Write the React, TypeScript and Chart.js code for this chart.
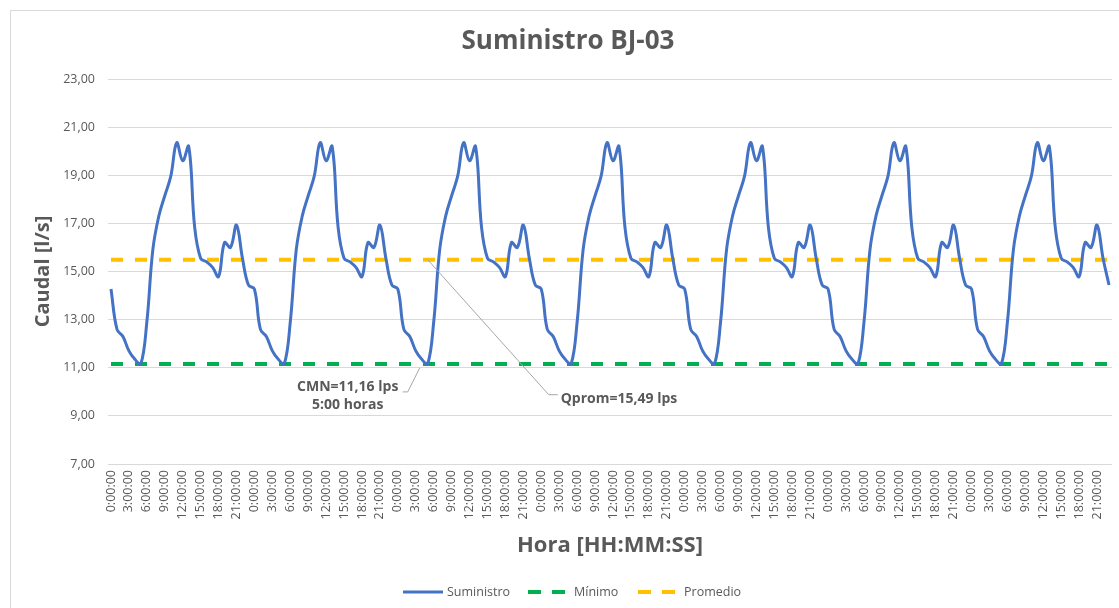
import React, { useEffect, useRef } from "react";
import { Chart, registerables } from "chart.js";

Chart.register(...registerables);

const TITLE = "Suministro BJ-03";
const X_TITLE = "Hora [HH:MM:SS]";
const Y_TITLE = "Caudal [l/s]";

const HOURS = [
  "0:00:00", "1:00:00", "2:00:00", "3:00:00", "4:00:00", "5:00:00",
  "6:00:00", "7:00:00", "8:00:00", "9:00:00", "10:00:00", "11:00:00",
  "12:00:00", "13:00:00", "14:00:00", "15:00:00", "16:00:00", "17:00:00",
  "18:00:00", "19:00:00", "20:00:00", "21:00:00", "22:00:00", "23:00:00",
];
const DAYS = [1, 2, 3, 4, 5, 6, 7];

const SUMINISTRO = [
  14.27, 12.6, 12.3, 11.7, 11.35, 11.16, 12.9, 15.9, 17.3, 18.15, 18.95, 20.35, 19.6, 20.2, 16.85, 15.55, 15.4, 15.17, 14.79, 16.2, 16.0, 16.93, 15.55, 14.44,
  14.27, 12.6, 12.3, 11.7, 11.35, 11.16, 12.9, 15.9, 17.3, 18.15, 18.95, 20.35, 19.6, 20.2, 16.85, 15.55, 15.4, 15.17, 14.79, 16.2, 16.0, 16.93, 15.55, 14.44,
  14.27, 12.6, 12.3, 11.7, 11.35, 11.16, 12.9, 15.9, 17.3, 18.15, 18.95, 20.35, 19.6, 20.2, 16.85, 15.55, 15.4, 15.17, 14.79, 16.2, 16.0, 16.93, 15.55, 14.44,
  14.27, 12.6, 12.3, 11.7, 11.35, 11.16, 12.9, 15.9, 17.3, 18.15, 18.95, 20.35, 19.6, 20.2, 16.85, 15.55, 15.4, 15.17, 14.79, 16.2, 16.0, 16.93, 15.55, 14.44,
  14.27, 12.6, 12.3, 11.7, 11.35, 11.16, 12.9, 15.9, 17.3, 18.15, 18.95, 20.35, 19.6, 20.2, 16.85, 15.55, 15.4, 15.17, 14.79, 16.2, 16.0, 16.93, 15.55, 14.44,
  14.27, 12.6, 12.3, 11.7, 11.35, 11.16, 12.9, 15.9, 17.3, 18.15, 18.95, 20.35, 19.6, 20.2, 16.85, 15.55, 15.4, 15.17, 14.79, 16.2, 16.0, 16.93, 15.55, 14.44,
  14.27, 12.6, 12.3, 11.7, 11.35, 11.16, 12.9, 15.9, 17.3, 18.15, 18.95, 20.35, 19.6, 20.2, 16.85, 15.55, 15.4, 15.17, 14.79, 16.2, 16.0, 16.93, 15.55, 14.44,
];

const MINIMO = 11.16;
const PROMEDIO = 15.49;
const Y_MIN = 7;
const Y_MAX = 23;
const Y_STEP = 2;

const CMN_TEXT = ["CMN=11,16 lps", "5:00 horas"];
const QPROM_TEXT = "Qprom=15,49 lps";
const ANNOT_INDEX = 53;

const LABELS = DAYS.flatMap(() => HOURS);

const GREY = "#595959";
const FONT = '"Open Sans"';

const overlay = {
  id: "overlay",
  afterDraw(chart: any) {
    const ctx = chart.ctx as CanvasRenderingContext2D;
    const xs = chart.scales.x;
    const ys = chart.scales.y;
    const area = chart.chartArea;
    ctx.save();

    // chart border
    ctx.strokeStyle = "#d9d9d9";
    ctx.lineWidth = 1;
    ctx.strokeRect(10.5, 10.5, 1300, 800);

    // title
    ctx.fillStyle = GREY;
    ctx.textAlign = "center";
    ctx.textBaseline = "middle";
    ctx.font = `bold 26px ${FONT}`;
    ctx.fillText(TITLE, 568, 42);

    // x title
    ctx.font = `bold 22px ${FONT}`;
    ctx.fillText(X_TITLE, (area.left + area.right) / 2, 546);

    // y title
    ctx.save();
    ctx.translate(43, (area.top + area.bottom) / 2);
    ctx.rotate(-Math.PI / 2);
    ctx.font = `bold 20px ${FONT}`;
    ctx.fillText(Y_TITLE, 0, 0);
    ctx.restore();

    // annotations
    const ax = xs.getPixelForValue(ANNOT_INDEX);
    const ayMin = ys.getPixelForValue(MINIMO);
    const ayProm = ys.getPixelForValue(PROMEDIO);
    ctx.strokeStyle = "#a6a6a6";
    ctx.lineWidth = 1;
    ctx.beginPath();
    ctx.moveTo(ax - 8, ayMin + 4);
    ctx.lineTo(ax - 20, ayMin + 28);
    ctx.lineTo(ax - 25, ayMin + 28);
    ctx.stroke();
    ctx.beginPath();
    ctx.moveTo(ax, ayProm);
    ctx.lineTo(ax + 121, ayProm + 135);
    ctx.lineTo(ax + 130, ayProm + 135);
    ctx.stroke();

    ctx.fillStyle = GREY;
    ctx.font = `bold 14px ${FONT}`;
    ctx.textAlign = "center";
    ctx.fillText(CMN_TEXT[0], ax - 80, ayMin + 23);
    ctx.fillText(CMN_TEXT[1], ax - 80, ayMin + 41);
    ctx.textAlign = "left";
    ctx.fillText(QPROM_TEXT, ax + 133, ayProm + 139);

    // legend
    const ly = 592;
    ctx.font = `12.5px ${FONT}`;
    ctx.textBaseline = "middle";
    ctx.lineWidth = 3;
    ctx.strokeStyle = "#4472C4";
    ctx.setLineDash([]);
    ctx.beginPath();
    ctx.moveTo(403, ly);
    ctx.lineTo(443, ly);
    ctx.stroke();
    ctx.fillStyle = GREY;
    ctx.fillText("Suministro", 447, ly);

    ctx.lineWidth = 4;
    ctx.setLineDash([13, 11]);
    ctx.strokeStyle = "#00B050";
    ctx.beginPath();
    ctx.moveTo(528, ly);
    ctx.lineTo(565, ly);
    ctx.stroke();
    ctx.fillText("Mínimo", 574, ly);

    ctx.strokeStyle = "#FFC000";
    ctx.beginPath();
    ctx.moveTo(638, ly);
    ctx.lineTo(677, ly);
    ctx.stroke();
    ctx.setLineDash([]);
    ctx.fillText("Promedio", 684, ly);

    ctx.restore();
  },
};

export default function App() {
  const ref = useRef<HTMLCanvasElement | null>(null);

  useEffect(() => {
    if (!ref.current) return;
    const chart = new Chart(ref.current, {
      type: "line",
      data: {
        labels: LABELS,
        datasets: [
          {
            label: "Suministro",
            data: SUMINISTRO,
            borderColor: "#4472C4",
            backgroundColor: "#4472C4",
            borderWidth: 3,
            pointRadius: 0,
            tension: 0.4,
            fill: false,
          },
          {
            label: "Mínimo",
            data: LABELS.map(() => MINIMO),
            borderColor: "#00B050",
            backgroundColor: "#00B050",
            borderWidth: 4,
            borderDash: [12, 12],
            pointRadius: 0,
            fill: false,
          },
          {
            label: "Promedio",
            data: LABELS.map(() => PROMEDIO),
            borderColor: "#FFC000",
            backgroundColor: "#FFC000",
            borderWidth: 4,
            borderDash: [12, 12],
            pointRadius: 0,
            fill: false,
          },
        ],
      },
      options: {
        responsive: false,
        animation: false,
        layout: { padding: { left: 0, top: 79, right: 7, bottom: 0 } },
        plugins: {
          legend: { display: false },
          title: { display: false },
          tooltip: { enabled: false },
        },
        scales: {
          x: {
            type: "category",
            offset: true,
            grid: { display: false, drawTicks: false },
            border: { display: false },
            afterFit: (s: any) => {
              s.height = 144;
            },
            ticks: {
              autoSkip: false,
              maxRotation: 90,
              minRotation: 90,
              padding: 6,
              color: GREY,
              font: { family: FONT, size: 12.5 },
              callback: (_v: any, i: number) => (i % 3 === 0 ? LABELS[i] : null),
            },
          },
          y: {
            min: Y_MIN,
            max: Y_MAX,
            grid: { color: "#d9d9d9", lineWidth: 1, drawTicks: false },
            border: { display: false },
            afterFit: (s: any) => {
              s.width = 108;
            },
            ticks: {
              stepSize: Y_STEP,
              padding: 13,
              color: GREY,
              font: { family: FONT, size: 12.5 },
              callback: (v: any) => Number(v).toFixed(2).replace(".", ","),
            },
          },
        },
      },
      plugins: [overlay],
    });
    return () => chart.destroy();
  }, []);

  return (
    <div style={{ position: "fixed", left: 0, top: 0, width: 1119, height: 608, background: "#fff" }}>
      <canvas ref={ref} width={1119} height={608} style={{ display: "block" }} />
    </div>
  );
}
